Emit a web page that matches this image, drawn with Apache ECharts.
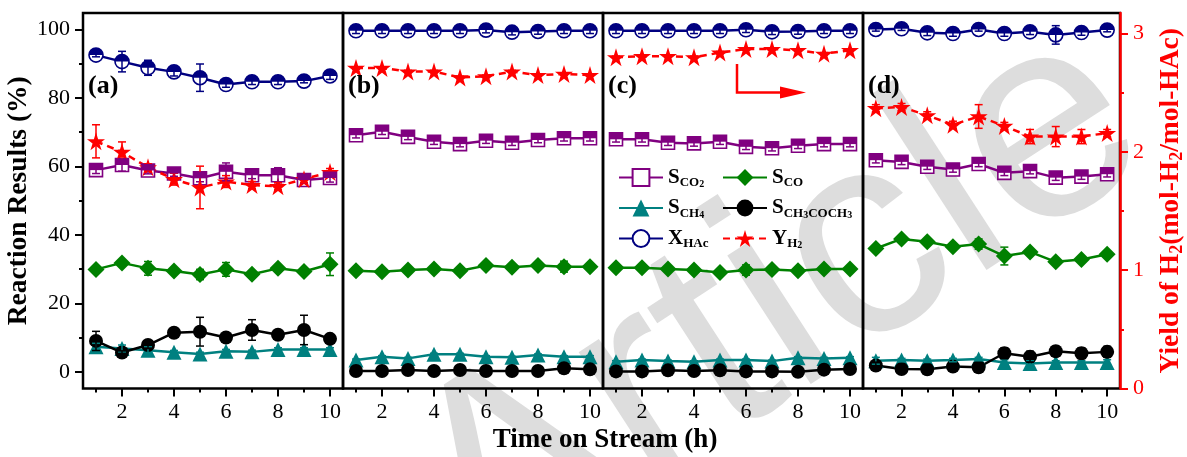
<!DOCTYPE html>
<html>
<head>
<meta charset="utf-8">
<script src="https://cdn.jsdelivr.net/npm/echarts@6/dist/echarts.min.js"></script>
<style>
html,body{margin:0;padding:0;background:#fff;}
#chart{width:1187px;height:457px;}
</style>
</head>
<body>
<div id="chart"></div>
<script>
// ---------------- DATA ----------------
const hours = [1, 2, 3, 4, 5, 6, 7, 8, 9, 10];
const xTickLabels = [2, 4, 6, 8, 10];
const xMinorTicks = [1, 3, 5, 7, 9];
const yTickLabels = [0, 20, 40, 60, 80, 100];
const yMinorTicks = [10, 30, 50, 70, 90];
const rTickLabels = [0, 1, 2, 3];
const rMinorTicks = [0.5, 1.5, 2.5];
const panelLabels = ['(a)', '(b)', '(c)', '(d)'];

// Panel (a)
const a_SCO2 = [58.9, 60.4, 58.8, 57.9, 56.5, 58.4, 57.4, 57.4, 56.0, 56.6];
const a_SCO = [29.9, 31.8, 30.2, 29.4, 28.4, 29.9, 28.5, 30.2, 29.3, 31.4];
const a_SCH4 = [7.3, 6.8, 6.3, 5.7, 5.2, 6.0, 5.8, 6.5, 6.5, 6.5];
const a_SAc = [9.0, 5.6, 7.8, 11.4, 11.7, 10.0, 12.2, 10.8, 12.2, 9.6];
const a_XHAc = [92.5, 90.6, 88.8, 87.6, 85.9, 83.9, 84.7, 84.7, 84.9, 86.4];
const a_YH2 = [2.09, 2.00, 1.87, 1.77, 1.70, 1.75, 1.72, 1.71, 1.77, 1.83];
const a_SCO2_err = [1.0, 1.8, 1.0, 0.8, 1.0, 2.6, 1.0, 2.2, 0.8, 1.2];
const a_SCO_err = [0.5, 0.5, 2.0, 0.5, 1.5, 2.0, 0.5, 0.5, 0.5, 3.3];
const a_SCH4_err = [1.0, 1.0, 1.0, 0.5, 0.5, 0.5, 0.5, 0.5, 0.5, 0.5];
const a_SAc_err = [2.8, 0.5, 1.0, 0.5, 4.2, 0.5, 3.0, 0.5, 4.3, 0.5];
const a_XHAc_err = [0.5, 3.0, 2.2, 1.2, 4.0, 0.8, 0.8, 0.8, 0.5, 1.0];
const a_YH2_err = [0.14, 0.085, 0.03, 0.05, 0.18, 0.05, 0.03, 0.03, 0.03, 0.03];

// Panel (b)
const b_SCO2 = [69.1, 70.1, 68.6, 67.2, 66.5, 67.5, 66.9, 67.7, 68.2, 68.2];
const b_SCO = [29.5, 29.2, 29.7, 30.0, 29.5, 31.0, 30.5, 31.0, 30.7, 30.7];
const b_SCH4 = [3.4, 4.4, 3.9, 5.1, 5.1, 4.4, 4.2, 4.9, 4.4, 4.4];
const b_SAc = [0.2, 0.2, 0.5, 0.2, 0.5, 0.2, 0.2, 0.2, 1.0, 0.7];
const b_XHAc = [99.6, 99.6, 99.6, 99.6, 99.6, 99.8, 99.2, 99.4, 99.6, 99.6];
const b_YH2 = [2.71, 2.71, 2.68, 2.68, 2.63, 2.64, 2.68, 2.65, 2.66, 2.65];
const b_SCO2_err = [0.8, 0.8, 0.8, 0.8, 0.8, 0.8, 0.8, 0.8, 0.8, 0.8];
const b_SCO_err = [0.3, 0.3, 0.3, 0.3, 0.3, 0.3, 0.3, 0.3, 1.6, 0.3];
const b_SCH4_err = [0.3, 0.3, 0.3, 0.3, 0.3, 0.3, 0.3, 0.3, 0.3, 0.3];
const b_SAc_err = [0.2, 0.2, 0.2, 0.2, 0.2, 0.2, 0.2, 0.2, 0.2, 0.2];
const b_XHAc_err = [0.8, 0.8, 0.8, 0.8, 0.8, 0.8, 0.8, 0.8, 0.8, 0.8];
const b_YH2_err = [0.01, 0.01, 0.01, 0.01, 0.01, 0.01, 0.01, 0.01, 0.01, 0.01];

// Panel (c)
const c_SCO2 = [67.9, 67.9, 66.9, 66.7, 67.2, 65.7, 65.3, 66.0, 66.5, 66.5];
const c_SCO = [30.4, 30.4, 30.0, 29.7, 29.0, 29.7, 29.9, 29.5, 30.0, 30.0];
const c_SCH4 = [2.9, 3.4, 3.1, 2.9, 3.4, 3.4, 3.1, 4.1, 3.9, 4.1];
const c_SAc = [0.1, 0.1, 0.4, 0.2, 0.4, 0.1, 0.1, 0.0, 0.6, 0.8];
const c_XHAc = [99.6, 99.6, 99.6, 99.6, 99.6, 99.9, 99.3, 99.4, 99.6, 99.6];
const c_YH2 = [2.80, 2.81, 2.81, 2.80, 2.84, 2.87, 2.87, 2.86, 2.83, 2.86];
const c_SCO2_err = [0.8, 0.8, 0.8, 0.8, 0.8, 0.8, 0.8, 0.8, 0.8, 0.8];
const c_SCO_err = [0.3, 0.3, 0.3, 0.3, 0.3, 1.5, 0.3, 0.3, 0.3, 0.3];
const c_SCH4_err = [0.3, 0.3, 0.3, 0.3, 0.3, 0.3, 0.3, 0.3, 0.3, 0.3];
const c_SAc_err = [0.2, 0.2, 0.8, 0.2, 0.2, 0.2, 0.2, 0.2, 0.2, 0.2];
const c_XHAc_err = [0.8, 0.8, 0.8, 0.8, 0.8, 0.8, 0.8, 0.8, 0.8, 0.8];
const c_YH2_err = [0.01, 0.01, 0.01, 0.01, 0.01, 0.01, 0.01, 0.01, 0.01, 0.01];

// Panel (d)
const d_SCO2 = [61.8, 61.3, 59.9, 59.1, 60.7, 58.1, 58.6, 56.7, 57.0, 57.7];
const d_SCO = [36.0, 38.8, 38.0, 36.5, 37.3, 33.8, 35.0, 32.1, 32.8, 34.3];
const d_SCH4 = [3.2, 3.4, 3.2, 3.4, 3.7, 2.7, 2.4, 2.7, 2.7, 2.7];
const d_SAc = [1.8, 0.8, 0.7, 1.5, 1.3, 5.4, 4.4, 6.0, 5.4, 5.8];
const d_XHAc = [100.0, 100.2, 99.0, 98.8, 100.0, 98.8, 99.3, 98.4, 99.1, 99.8];
const d_YH2 = [2.37, 2.38, 2.31, 2.23, 2.30, 2.22, 2.13, 2.13, 2.13, 2.16];
const d_SCO2_err = [0.8, 0.8, 0.8, 0.8, 0.8, 0.8, 0.8, 0.8, 0.8, 0.8];
const d_SCO_err = [0.5, 0.5, 0.5, 0.5, 1.5, 2.6, 0.5, 0.5, 0.5, 0.5];
const d_SCH4_err = [1.0, 0.5, 0.5, 0.5, 0.5, 0.8, 0.8, 0.5, 0.5, 0.8];
const d_SAc_err = [1.0, 0.8, 0.8, 0.8, 0.8, 1.6, 1.6, 1.4, 1.6, 1.6];
const d_XHAc_err = [0.5, 0.5, 0.8, 0.8, 0.5, 0.8, 0.8, 2.7, 0.8, 0.5];
const d_YH2_err = [0.03, 0.03, 0.03, 0.03, 0.10, 0.03, 0.06, 0.085, 0.06, 0.03];

// ---------------- BUILD ----------------
const panels = [
  {SCO2: a_SCO2, SCO: a_SCO, SCH4: a_SCH4, SAc: a_SAc, XHAc: a_XHAc, YH2: a_YH2,
   err: {SCO2: a_SCO2_err, SCO: a_SCO_err, SCH4: a_SCH4_err, SAc: a_SAc_err, XHAc: a_XHAc_err, YH2: a_YH2_err}},
  {SCO2: b_SCO2, SCO: b_SCO, SCH4: b_SCH4, SAc: b_SAc, XHAc: b_XHAc, YH2: b_YH2,
   err: {SCO2: b_SCO2_err, SCO: b_SCO_err, SCH4: b_SCH4_err, SAc: b_SAc_err, XHAc: b_XHAc_err, YH2: b_YH2_err}},
  {SCO2: c_SCO2, SCO: c_SCO, SCH4: c_SCH4, SAc: c_SAc, XHAc: c_XHAc, YH2: c_YH2,
   err: {SCO2: c_SCO2_err, SCO: c_SCO_err, SCH4: c_SCH4_err, SAc: c_SAc_err, XHAc: c_XHAc_err, YH2: c_YH2_err}},
  {SCO2: d_SCO2, SCO: d_SCO, SCH4: d_SCH4, SAc: d_SAc, XHAc: d_XHAc, YH2: d_YH2,
   err: {SCO2: d_SCO2_err, SCO: d_SCO_err, SCH4: d_SCH4_err, SAc: d_SAc_err, XHAc: d_XHAc_err, YH2: d_YH2_err}}
];

const SERIF = "'Liberation Serif', 'Times New Roman', serif";
const TOP_HALF_CIRCLE = 'path://M0,10A10,10,0,0,1,20,10Z';
const STAR = 'path://M50,0L61.2,34.5L97.6,34.5L68.2,55.9L79.4,90.5L50,69.1L20.6,90.5L31.8,55.9L2.4,34.5L38.8,34.5Z';

// half: symbol for the filled upper half drawn on top of a hollow base symbol
const seriesDefs = [
  {key: 'SCO2', name: 'S_CO2', color: '#800080', symbol: 'rect', size: 13, right: false, half: 'rect'},
  {key: 'SCO', name: 'S_CO', color: '#008000', symbol: 'diamond', size: 17, right: false},
  {key: 'SCH4', name: 'S_CH4', color: '#008080', symbol: 'triangle', size: 15, right: false},
  {key: 'SAc', name: 'S_CH3COCH3', color: '#000000', symbol: 'circle', size: 14, right: false},
  {key: 'XHAc', name: 'X_HAc', color: '#000080', symbol: 'circle', size: 14, right: false, half: TOP_HALF_CIRCLE},
  {key: 'YH2', name: 'Y_H2', color: '#FF0000', symbol: STAR, size: 18, right: true}
];

const LMIN = -4.9, LMAX = 104.8, RMIN = 0, RMAX = 3.175;
const gridLeft = [83, 343, 603, 863];
const GW = 260, GTOP = 13, GH = 375.5;

const grids = gridLeft.map(l => ({left: l, top: GTOP, width: GW, height: GH, show: true,
  borderColor: '#000', borderWidth: 2.5, backgroundColor: 'transparent', containLabel: false}));

const xAxes = [];
gridLeft.forEach((l, i) => {
  xAxes.push({type: 'value', gridIndex: i, min: 0.5, max: 10.5, position: 'bottom',
    axisLine: {show: false, onZero: false}, splitLine: {show: false},
    axisTick: {show: true, inside: false, length: 8, lineStyle: {color: '#000', width: 2}, customValues: xTickLabels},
    axisLabel: {show: true, customValues: xTickLabels, margin: 13, color: '#000', fontFamily: SERIF, fontSize: 22}});
  xAxes.push({type: 'value', gridIndex: i, min: 0.5, max: 10.5, position: 'bottom',
    axisLine: {show: false, onZero: false}, splitLine: {show: false},
    axisTick: {show: true, inside: false, length: 4, lineStyle: {color: '#000', width: 2}, customValues: xMinorTicks},
    axisLabel: {show: false}});
});

const hiddenAxis = (gi, mn, mx, pos) => ({type: 'value', gridIndex: gi, min: mn, max: mx, position: pos, show: false,
  axisLine: {onZero: false}, splitLine: {show: false}});

const rich = {
  m: {fontFamily: SERIF, fontWeight: 'bold', fontSize: 21, color: '#000', lineHeight: 24, verticalAlign: 'middle'},
  s: {fontFamily: SERIF, fontWeight: 'bold', fontSize: 13, color: '#000', lineHeight: 12, verticalAlign: 'bottom'},
  ss: {fontFamily: SERIF, fontWeight: 'bold', fontSize: 10, color: '#000', lineHeight: 4, verticalAlign: 'bottom'}
};

const yAxes = [
  // 0: grid0 left major
  {type: 'value', gridIndex: 0, min: LMIN, max: LMAX, position: 'left',
    axisLine: {show: false, onZero: false}, splitLine: {show: false},
    axisTick: {show: true, inside: false, length: 8, lineStyle: {color: '#000', width: 2}, customValues: yTickLabels},
    axisLabel: {show: true, customValues: yTickLabels, margin: 13, color: '#000', fontFamily: SERIF, fontSize: 22},
    name: 'Reaction Results (%)', nameLocation: 'middle', nameGap: 41, nameRotate: 90,
    nameTextStyle: {fontFamily: SERIF, fontWeight: 'bold', fontSize: 27.5, color: '#000'}},
  // 1: grid0 left minor
  {type: 'value', gridIndex: 0, min: LMIN, max: LMAX, position: 'left',
    axisLine: {show: false, onZero: false}, splitLine: {show: false},
    axisTick: {show: true, inside: false, length: 4, lineStyle: {color: '#000', width: 2}, customValues: yMinorTicks},
    axisLabel: {show: false}},
  hiddenAxis(0, RMIN, RMAX, 'right'), // 2
  hiddenAxis(1, LMIN, LMAX, 'left'),  // 3
  hiddenAxis(1, RMIN, RMAX, 'right'), // 4
  hiddenAxis(2, LMIN, LMAX, 'left'),  // 5
  hiddenAxis(2, RMIN, RMAX, 'right'), // 6
  hiddenAxis(3, LMIN, LMAX, 'left'),  // 7
  // 8: grid3 right red major
  {type: 'value', gridIndex: 3, min: RMIN, max: RMAX, position: 'right',
    axisLine: {show: true, onZero: false, lineStyle: {color: '#FF0000', width: 2.5}}, splitLine: {show: false},
    axisTick: {show: true, inside: false, length: 8, lineStyle: {color: '#FF0000', width: 2}, customValues: rTickLabels},
    axisLabel: {show: true, customValues: rTickLabels, margin: 13, color: '#FF0000', fontFamily: SERIF, fontSize: 22},
    name: '{m|Yield of H}{s|2}{m|(mol-H}{s|2}{m|/mol-HAc)}', nameLocation: 'middle', nameGap: 36, nameRotate: 90,
    nameTextStyle: {color: '#FF0000', rich: {
      m: {fontFamily: SERIF, fontWeight: 'bold', fontSize: 27.5, color: '#FF0000', lineHeight: 30, verticalAlign: 'middle'},
      s: {fontFamily: SERIF, fontWeight: 'bold', fontSize: 18, color: '#FF0000', lineHeight: 12, verticalAlign: 'bottom'}}}},
  // 9: grid3 right red minor
  {type: 'value', gridIndex: 3, min: RMIN, max: RMAX, position: 'right',
    axisLine: {show: false, onZero: false}, splitLine: {show: false},
    axisTick: {show: true, inside: false, length: 4, lineStyle: {color: '#FF0000', width: 2}, customValues: rMinorTicks},
    axisLabel: {show: false}}
];
const leftIdx = [0, 3, 5, 7];
const rightIdx = [2, 4, 6, 8];

function errRender(params, api) {
  const x = api.value(0), y = api.value(1), e = api.value(2);
  if (!(e > 0)) return;
  const hi = api.coord([x, y + e]), lo = api.coord([x, y - e]);
  const w = 4;
  const style = {stroke: api.visual('color'), lineWidth: 1.5, fill: null};
  return {type: 'group', children: [
    {type: 'line', shape: {x1: hi[0], y1: hi[1], x2: lo[0], y2: lo[1]}, style: style},
    {type: 'line', shape: {x1: hi[0] - w, y1: hi[1], x2: hi[0] + w, y2: hi[1]}, style: style},
    {type: 'line', shape: {x1: lo[0] - w, y1: lo[1], x2: lo[0] + w, y2: lo[1]}, style: style}
  ]};
}

const series = [];
panels.forEach((p, i) => {
  seriesDefs.forEach(def => {
    const yIdx = def.right ? rightIdx[i] : leftIdx[i];
    const vals = p[def.key];
    const errs = p.err[def.key];
    const pts = hours.map((h, k) => [h, vals[k]]);
    series.push({
      type: 'line', name: def.name, xAxisIndex: 2 * i, yAxisIndex: yIdx,
      data: pts,
      symbol: def.symbol, symbolSize: def.size, showSymbol: true, z: 3,
      lineStyle: {color: def.color, width: 2.5, type: def.right ? [7, 5] : 'solid'},
      itemStyle: def.half ? {color: '#ffffff', borderColor: def.color, borderWidth: 1.6}
                          : {color: def.color, borderWidth: 0},
      emphasis: {disabled: true}
    });
    series.push({
      type: 'custom', name: def.name + '_err', xAxisIndex: 2 * i, yAxisIndex: yIdx,
      renderItem: errRender, itemStyle: {color: def.color}, silent: true, z: 4,
      data: hours.map((h, k) => [h, vals[k], errs[k]])
    });
    if (def.half) {
      series.push({
        type: 'scatter', name: def.name + '_top', xAxisIndex: 2 * i, yAxisIndex: yIdx,
        data: pts, symbol: def.half, symbolSize: [def.size, def.size / 2],
        symbolOffset: [0, -def.size / 4], z: 5, silent: true,
        itemStyle: {color: def.color, opacity: 1}, emphasis: {disabled: true}
      });
    }
  });
});

const legendNames = {
  'S_CO2': '{m|S}{s|CO}{ss|2}',
  'S_CO': '{m|S}{s|CO}',
  'S_CH4': '{m|S}{s|CH}{ss|4}',
  'S_CH3COCH3': '{m|S}{s|CH}{ss|3}{s|COCH}{ss|3}',
  'X_HAc': '{m|X}{s|HAc}',
  'Y_H2': '{m|Y}{s|H}{ss|2}'
};
const legendBase = {orient: 'vertical', top: 162, itemGap: 8, itemWidth: 44, itemHeight: 21,
  selectedMode: false, formatter: n => legendNames[n], textStyle: {rich: rich}};

const option = {
  animation: false,
  backgroundColor: '#ffffff',
  grid: grids,
  xAxis: xAxes,
  yAxis: yAxes,
  legend: [
    Object.assign({}, legendBase, {left: 613, data: ['S_CO2', 'S_CH4', 'X_HAc']}),
    Object.assign({}, legendBase, {left: 717, data: ['S_CO', 'S_CH3COCH3', 'Y_H2']})
  ],
  graphic: [
    {type: 'text', z: -10, x: 778, y: 310, rotation: 33 * Math.PI / 180,
      style: {text: 'Article', fontFamily: "'Liberation Sans', Arial, sans-serif", fontSize: 290,
        fill: '#dddddd', align: 'center', verticalAlign: 'middle'}},
    ...panelLabels.map((t, i) => ({type: 'text', x: gridLeft[i] + 5, y: 86, z: 10,
      style: {text: t, fontFamily: SERIF, fontWeight: 'bold', fontSize: 26, fill: '#000', verticalAlign: 'middle'}})),
    {type: 'text', x: 605, y: 440, z: 10,
      style: {text: 'Time on Stream (h)', fontFamily: SERIF, fontWeight: 'bold', fontSize: 27, fill: '#000',
        align: 'center', verticalAlign: 'middle'}},
    {type: 'polyline', z: 10, shape: {points: [[737, 64], [737, 92.5], [784, 92.5]]},
      style: {stroke: '#FF0000', lineWidth: 2.5, fill: null}},
    {type: 'polygon', z: 10, shape: {points: [[780, 86.5], [806, 92.5], [780, 98.5]]},
      style: {fill: '#FF0000', stroke: null}}
  ],
  series: series
};

const chart = echarts.init(document.getElementById('chart'), null, {renderer: 'canvas'});
chart.setOption(option);
</script>
</body>
</html>
